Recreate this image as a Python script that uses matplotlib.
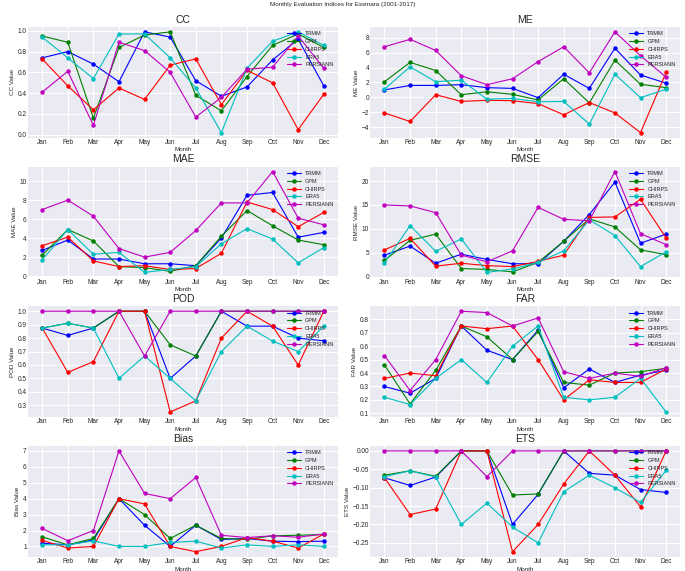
import numpy as np
import matplotlib
matplotlib.use("Agg")
from matplotlib import pyplot as plt
from matplotlib.ticker import MultipleLocator

months = ["Jan", "Feb", "Mar", "Apr", "May", "Jun", "Jul", "Aug", "Sep", "Oct", "Nov", "Dec"]
products = ["TRMM", "GPM", "CHIRPS", "ERA5", "PERSIANN"]
colors = ["b", "g", "r", "c", "m"]

# index values per product, Jan..Dec
cc_trmm = [0.74, 0.80, 0.68, 0.51, 0.99, 0.94, 0.52, 0.37, 0.46, 0.72, 0.92, 0.47]
cc_gpm = [0.95, 0.89, 0.16, 0.84, 0.96, 0.99, 0.38, 0.23, 0.56, 0.86, 0.97, 0.84]
cc_chirps = [0.73, 0.47, 0.24, 0.45, 0.34, 0.67, 0.73, 0.29, 0.62, 0.50, 0.05, 0.39]
cc_era5 = [0.94, 0.74, 0.54, 0.97, 0.97, 0.74, 0.45, 0.02, 0.64, 0.90, 0.99, 0.86]
cc_persiann = [0.41, 0.61, 0.09, 0.89, 0.81, 0.60, 0.17, 0.36, 0.63, 0.65, 0.95, 0.64]

me_trmm = [1.0, 1.6, 1.6, 1.7, 1.3, 1.2, -0.05, 3.1, 1.2, 6.6, 3.0, 1.9]
me_gpm = [2.1, 4.7, 3.6, 0.35, 0.75, 0.4, -0.35, 2.5, -0.75, 5.0, 1.75, 1.3]
me_chirps = [-2.1, -3.25, 0.35, -0.55, -0.4, -0.45, -0.85, -2.35, -0.7, -2.1, -4.75, 3.35]
me_era5 = [1.1, 4.1, 2.1, 2.3, -0.25, -0.15, -0.6, -0.55, -3.6, 3.1, -0.05, 1.1]
me_persiann = [6.8, 7.8, 6.3, 2.9, 1.7, 2.5, 4.8, 6.8, 3.3, 8.8, 5.6, 2.7]

mae_trmm = [2.7, 3.8, 1.8, 1.8, 1.3, 1.3, 1.1, 4.0, 8.5, 8.8, 4.1, 4.6]
mae_gpm = [2.2, 4.9, 3.7, 1.0, 0.9, 0.5, 1.1, 4.2, 6.9, 5.3, 3.8, 3.3]
mae_chirps = [3.2, 4.1, 1.6, 1.0, 1.1, 0.7, 0.8, 2.4, 7.8, 7.0, 5.2, 6.7]
mae_era5 = [1.7, 4.9, 2.3, 2.5, 0.4, 0.7, 1.0, 3.4, 5.0, 3.9, 1.4, 3.0]
mae_persiann = [7.0, 8.0, 6.3, 2.9, 2.0, 2.5, 4.8, 7.7, 7.7, 11.0, 6.1, 5.4]

rmse_trmm = [4.5, 6.4, 2.8, 4.7, 3.6, 2.7, 2.7, 7.4, 13.0, 19.8, 7.0, 8.9]
rmse_gpm = [3.4, 7.6, 8.9, 1.7, 1.5, 1.0, 3.0, 7.4, 12.1, 10.4, 5.6, 4.6]
rmse_chirps = [5.6, 8.0, 2.2, 2.8, 2.3, 2.1, 3.2, 4.5, 12.4, 12.5, 16.2, 8.1]
rmse_era5 = [2.9, 10.7, 5.3, 7.9, 0.9, 1.6, 3.0, 5.4, 11.9, 8.6, 2.1, 5.2]
rmse_persiann = [15.0, 14.8, 13.4, 4.5, 3.1, 5.4, 14.5, 12.0, 11.7, 22.0, 9.0, 6.7]

pod_trmm = [0.875, 0.82, 0.875, 1.0, 1.0, 0.5, 0.667, 1.0, 0.889, 0.889, 0.8, 0.78]
pod_gpm = [0.875, 0.91, 0.875, 1.0, 1.0, 0.75, 0.667, 1.0, 1.0, 1.0, 1.0, 1.0]
pod_chirps = [0.875, 0.545, 0.625, 1.0, 1.0, 0.25, 0.333, 0.8, 1.0, 0.889, 0.6, 1.0]
pod_era5 = [0.875, 0.91, 0.875, 0.5, 0.667, 0.5, 0.333, 0.7, 0.889, 0.778, 0.7, 0.889]
pod_persiann = [1.0, 1.0, 1.0, 1.0, 0.667, 1.0, 1.0, 1.0, 1.0, 1.0, 1.0, 1.0]

far_trmm = [0.30, 0.25, 0.36, 0.75, 0.57, 0.50, 0.72, 0.29, 0.43, 0.33, 0.385, 0.42]
far_gpm = [0.46, 0.17, 0.42, 0.75, 0.67, 0.50, 0.71, 0.33, 0.31, 0.40, 0.41, 0.435]
far_chirps = [0.36, 0.40, 0.38, 0.75, 0.73, 0.75, 0.50, 0.20, 0.35, 0.33, 0.33, 0.43]
far_era5 = [0.22, 0.165, 0.36, 0.50, 0.33, 0.60, 0.75, 0.22, 0.20, 0.22, 0.36, 0.11]
far_persiann = [0.53, 0.27, 0.50, 0.86, 0.85, 0.75, 0.81, 0.41, 0.36, 0.40, 0.375, 0.44]

bias_trmm = [1.2, 1.1, 1.4, 4.0, 2.33, 1.0, 2.33, 1.44, 1.5, 1.33, 1.3, 1.33]
bias_gpm = [1.6, 1.1, 1.5, 4.0, 3.0, 1.5, 2.33, 1.5, 1.44, 1.67, 1.7, 1.75]
bias_chirps = [1.38, 0.9, 1.0, 4.0, 3.67, 1.0, 0.67, 1.0, 1.56, 1.33, 0.9, 1.78]
bias_era5 = [1.1, 1.1, 1.35, 1.0, 1.0, 1.25, 1.33, 0.9, 1.1, 1.0, 1.1, 1.0]
bias_persiann = [2.13, 1.36, 2.0, 7.0, 4.33, 4.0, 5.33, 1.7, 1.56, 1.67, 1.58, 1.78]

ets_trmm = [-0.073, -0.094, -0.071, 0.0, 0.0, -0.20, -0.118, 0.0, -0.061, -0.066, -0.105, -0.113]
ets_gpm = [-0.066, -0.054, -0.069, 0.0, 0.0, -0.12, -0.117, 0.0, 0.0, 0.0, 0.0, 0.0]
ets_chirps = [-0.073, -0.173, -0.158, 0.0, 0.0, -0.274, -0.20, -0.09, 0.0, -0.066, -0.152, 0.0]
ets_era5 = [-0.07, -0.054, -0.071, -0.20, -0.142, -0.207, -0.25, -0.111, -0.066, -0.10, -0.14, -0.053]
ets_persiann = [0.0, 0.0, 0.0, 0.0, -0.07, 0.0, 0.0, 0.0, 0.0, 0.0, 0.0, 0.0]

indices = [
    ("CC", [cc_trmm, cc_gpm, cc_chirps, cc_era5, cc_persiann]),
    ("ME", [me_trmm, me_gpm, me_chirps, me_era5, me_persiann]),
    ("MAE", [mae_trmm, mae_gpm, mae_chirps, mae_era5, mae_persiann]),
    ("RMSE", [rmse_trmm, rmse_gpm, rmse_chirps, rmse_era5, rmse_persiann]),
    ("POD", [pod_trmm, pod_gpm, pod_chirps, pod_era5, pod_persiann]),
    ("FAR", [far_trmm, far_gpm, far_chirps, far_era5, far_persiann]),
    ("Bias", [bias_trmm, bias_gpm, bias_chirps, bias_era5, bias_persiann]),
    ("ETS", [ets_trmm, ets_gpm, ets_chirps, ets_era5, ets_persiann]),
]

plt.style.use("seaborn-v0_8-darkgrid")

fig, axes = plt.subplots(4, 2, figsize=(6.85, 5.71), dpi=100)
plt.subplots_adjust(left=0.041, right=0.993, top=0.953, bottom=0.025,
                    hspace=0.26, wspace=0.105)

x = np.arange(len(months))
for ax, (name, series) in zip(axes.flat, indices):
    for vals, label, col in zip(series, products, colors):
        ax.plot(x, vals, marker="o", color=col, label=label,
                linewidth=0.8, markersize=2.2)
    ax.set_title(name, fontsize=7.5, pad=3)
    ax.set_xlabel("Month", fontsize=4.5, labelpad=1)
    ax.set_ylabel(name + " Value", fontsize=4.5, labelpad=2)
    ax.set_xticks(x)
    ax.set_xticklabels(months)
    ax.tick_params(labelsize=4.7, pad=1)
    if name in ("POD", "FAR"):
        ax.yaxis.set_major_locator(MultipleLocator(0.1))
    ax.legend(loc="upper right", fontsize=4, handlelength=2.5,
              labelspacing=0.5, borderaxespad=0.4)

fig.suptitle("Monthly Evaluation Indices for Essmara (2001-2017)", fontsize=4.5, y=0.997)

plt.savefig("out.png", dpi=100)
